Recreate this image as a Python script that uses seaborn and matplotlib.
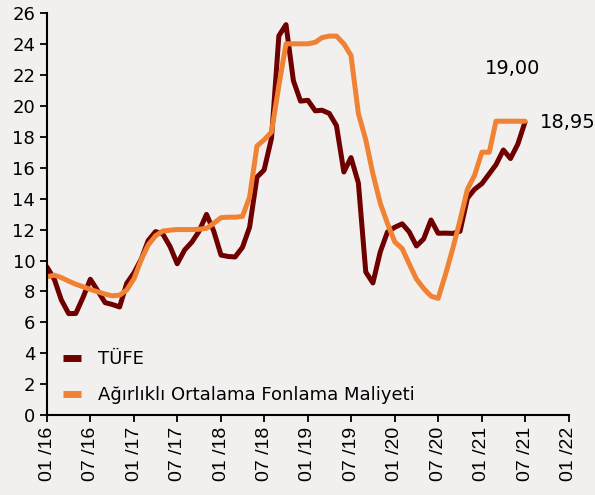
import numpy as np
import pandas as pd
import matplotlib
matplotlib.use("Agg")
import matplotlib.pyplot as plt
import matplotlib.dates as mdates
import seaborn as sns

# %% Data (monthly, 01/2016 - 07/2021)
months = pd.date_range("2016-01-01", "2021-07-01", freq="MS")

tufe = [
    9.58, 8.78, 7.46, 6.57, 6.58, 7.64, 8.79, 8.05, 7.28, 7.16, 7.00, 8.53,
    9.22, 10.13, 11.29, 11.87, 11.72, 10.90, 9.79, 10.68, 11.20, 11.90, 12.98, 11.92,
    10.35, 10.26, 10.23, 10.85, 12.15, 15.39, 15.85, 17.90, 24.52, 25.24, 21.62, 20.30,
    20.35, 19.67, 19.71, 19.50, 18.71, 15.72, 16.65, 15.01, 9.26, 8.55, 10.56, 11.84,
    12.15, 12.37, 11.86, 10.94, 11.39, 12.62, 11.76, 11.77, 11.75, 11.89, 14.03, 14.60,
    14.97, 15.61, 16.19, 17.14, 16.59, 17.53, 18.95,
]

fonlama = [
    8.95, 9.05, 8.90, 8.67, 8.47, 8.30, 8.13, 7.98, 7.83, 7.72, 7.76, 8.10,
    8.84, 10.10, 11.00, 11.60, 11.90, 11.96, 12.00, 12.00, 12.00, 12.02, 12.08, 12.40,
    12.77, 12.80, 12.80, 12.85, 14.10, 17.40, 17.80, 18.30, 21.30, 24.00, 24.00, 24.00,
    24.00, 24.10, 24.40, 24.50, 24.50, 24.00, 23.25, 19.50, 17.80, 15.60, 13.70, 12.40,
    11.20, 10.77, 9.80, 8.80, 8.20, 7.70, 7.55, 9.10, 10.80, 12.60, 14.60, 15.50,
    17.00, 17.00, 19.00, 19.00, 19.00, 19.00, 19.00,
]

labels = ["TÜFE", "Ağırlıklı Ortalama Fonlama Maliyeti"]
colors = ["#6E0000", "#F08233"]
annotations = [("19,00", "2021-05-10", 22.4), ("18,95", "2021-09-01", 18.9)]

df = pd.DataFrame({"date": months, labels[0]: tufe, labels[1]: fonlama})
long = df.melt(id_vars="date", var_name="seri", value_name="oran")

# %% Plot
BG = "#F2F0EF"
sns.set_theme(style="ticks", rc={"axes.facecolor": BG, "figure.facecolor": BG})
plt.rcParams["font.family"] = ["DejaVu Sans"]

fig = plt.figure(figsize=(5.95, 4.95), dpi=100)
ax = fig.add_axes([0.079, 0.161, 0.877, 0.813])

sns.lineplot(data=long, x="date", y="oran", hue="seri", hue_order=labels,
             palette=colors, linewidth=3.6, ax=ax)

ax.set_xlim(pd.Timestamp("2016-01-01"), pd.Timestamp("2022-01-01"))
ax.set_ylim(0, 26)
ax.set_yticks(np.arange(0, 27, 2))
ax.xaxis.set_major_locator(mdates.MonthLocator(bymonth=[1, 7]))
ax.xaxis.set_major_formatter(mdates.DateFormatter("%m /%y"))
ax.set_xlabel("")
ax.set_ylabel("")
for lab in ax.get_xticklabels():
    lab.set_rotation(90)
    lab.set_fontfamily("Liberation Sans")
    lab.set_fontsize(14)
ax.tick_params(axis="both", length=5, width=1.3, colors="black", labelcolor="black")
ax.tick_params(axis="y", labelsize=13)
sns.despine(ax=ax)
for s in ["left", "bottom"]:
    ax.spines[s].set_linewidth(1.5)
    ax.spines[s].set_color("black")

leg = ax.legend(loc="lower left", bbox_to_anchor=(0.0, -0.012), frameon=False,
                fontsize=13, handlelength=1.0, handletextpad=0.95,
                labelspacing=0.97)
for line in leg.get_lines():
    line.set_linewidth(5)
    line.set_solid_capstyle("butt")
for t in leg.get_texts():
    t.set_color("black")

for txt, d, v in annotations:
    ha = "center" if txt == "19,00" else "left"
    ax.text(pd.Timestamp(d), v, txt, fontsize=14, ha=ha, va="center", color="black")

fig.savefig("out.png", dpi=100, facecolor=BG)
